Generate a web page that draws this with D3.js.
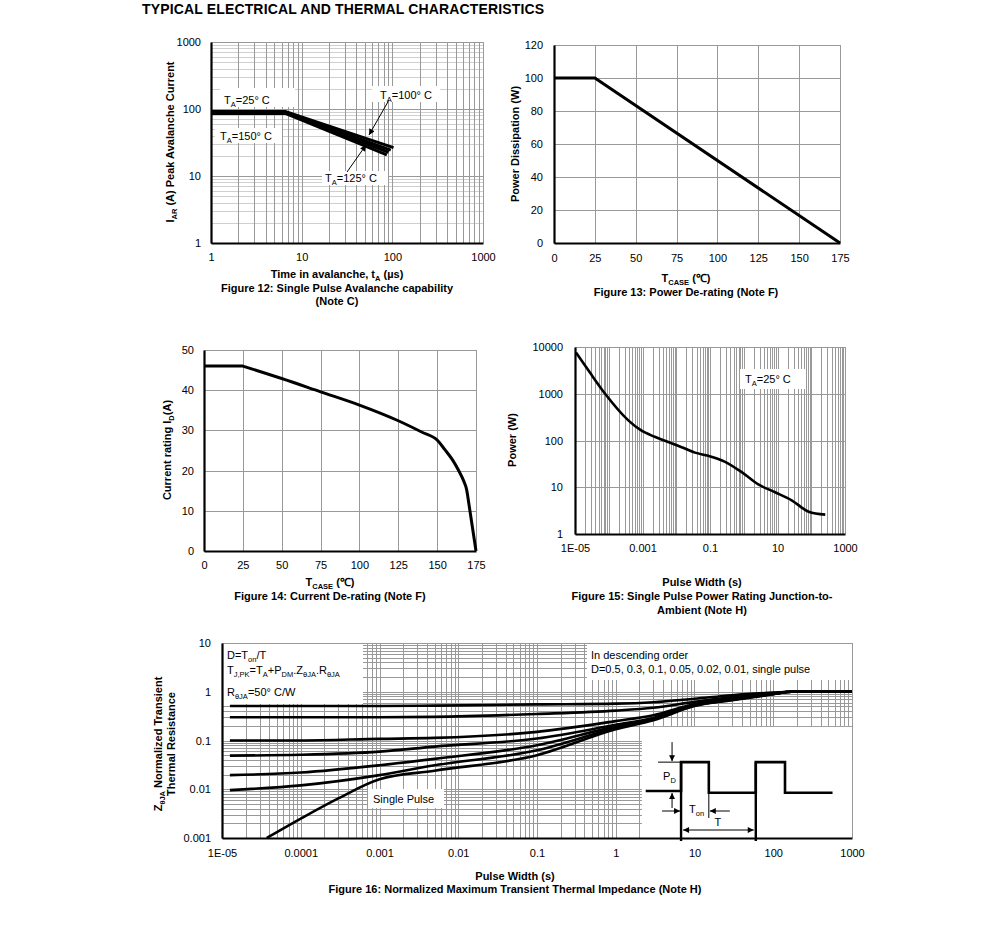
<!DOCTYPE html>
<html><head><meta charset="utf-8">
<script src="https://cdn.jsdelivr.net/npm/d3@7"></script>
<style>
body{margin:0;background:#fff;}
svg{display:block;}
</style></head><body>
<script>
// ================= DATA =================
const pageTitle = "TYPICAL ELECTRICAL AND THERMAL CHARACTERISTICS";

// Figure 12: single pulse avalanche capability
const fig12Temps = ["25", "100", "125", "150"];
const fig12Time = [[1, 6.6, 103], [1, 6.6, 96], [1, 6.6, 91], [1, 6.6, 87]];
const fig12Current = [[92, 92, 26.5], [90, 90, 24.3], [88, 88, 22.6], [86, 86, 20.6]];
const fig12XTicks = [1, 10, 100, 1000];
const fig12YTicks = [1, 10, 100, 1000];
const fig12TickLabels = ["1", "10", "100", "1000"];

// Figure 13: power de-rating
const fig13Temp = [0, 25, 175];
const fig13Power = [100, 100, 0];
const fig13XTicks = [0, 25, 50, 75, 100, 125, 150, 175];
const fig13YTicks = [0, 20, 40, 60, 80, 100, 120];

// Figure 14: current de-rating
const fig14Temp = [0, 25, 50, 75, 100, 125, 140, 150, 155, 160, 164, 167, 169, 170.2, 175];
const fig14Current = [46, 46, 42.9, 39.6, 36.3, 32.4, 29.6, 27.6, 25.2, 22.6, 19.9, 17.5, 15.2, 12.3, 0];
const fig14XTicks = [0, 25, 50, 75, 100, 125, 150, 175];
const fig14YTicks = [0, 10, 20, 30, 40, 50];

// Figure 15: single pulse power rating
const fig15Width = [1.07e-5, 2.8e-5, 7.8e-5, 3.8e-4, 8.9e-4, 2.3e-3, 5.8e-3, 1.45e-2, 3.6e-2, 8.9e-2, 0.28, 0.87, 2.7, 8.5, 27, 84, 260];
const fig15Power = [7600, 2800, 1000, 270, 166, 120, 93, 72, 55, 47, 35, 21, 11.5, 7.8, 5.2, 3, 2.6];
const fig15XTicks = [1e-5, 1e-3, 1e-1, 10, 1000];
const fig15XLabels = ["1E-05", "0.001", "0.1", "10", "1000"];
const fig15YTicks = [1, 10, 100, 1000, 10000];
const fig15YLabels = ["1", "10", "100", "1000", "10000"];

// Figure 16: normalized transient thermal impedance
const fig16Time = [1.26e-5, 1e-4, 1e-3, 5e-3, 0.1, 1, 3, 10, 30, 100, 170, 1000];
const fig16Duty = ["0.5", "0.3", "0.1", "0.05", "0.02", "0.01"];
const fig16Z = [
  [0.51, 0.51, 0.51, 0.52, 0.55, 0.57, 0.61, 0.72, 0.85, 0.96, 1, 1],
  [0.30, 0.30, 0.30, 0.305, 0.35, 0.41, 0.47, 0.62, 0.78, 0.94, 1, 1],
  [0.10, 0.10, 0.108, 0.113, 0.15, 0.25, 0.33, 0.56, 0.72, 0.92, 1, 1],
  [0.049, 0.051, 0.059, 0.075, 0.11, 0.21, 0.29, 0.54, 0.70, 0.91, 1, 1],
  [0.0195, 0.022, 0.031, 0.042, 0.08, 0.195, 0.28, 0.53, 0.69, 0.90, 1, 1],
  [0.0096, 0.012, 0.0195, 0.031, 0.063, 0.18, 0.27, 0.52, 0.68, 0.90, 1, 1]
];
const singlePulseTime = [3.7e-5, 1e-4, 3e-4, 1e-3, 5e-3, 0.1, 1, 3, 10, 30, 100, 170, 1000];
const singlePulseZ = [0.001, 0.0025, 0.0065, 0.016, 0.024, 0.05, 0.17, 0.26, 0.51, 0.67, 0.89, 1, 1];
const fig16XTicks = [1e-5, 1e-4, 1e-3, 1e-2, 0.1, 1, 10, 100, 1000];
const fig16XLabels = ["1E-05", "0.0001", "0.001", "0.01", "0.1", "1", "10", "100", "1000"];
const fig16YTicks = [0.001, 0.01, 0.1, 1, 10];
const fig16YLabels = ["0.001", "0.01", "0.1", "1", "10"];
// pulse schematic drawn in the figure-16 coordinate system
const pulseTime = [2.4, 6.75, 6.75, 15.2, 15.2, 60, 60, 141, 141, 566];
const pulseLevel = [0.0092, 0.0092, 0.036, 0.036, 0.0085, 0.0085, 0.036, 0.036, 0.0085, 0.0085];

// ================= DRAWING =================
const FONT = '"Liberation Sans", Arial, Helvetica, sans-serif';
const svg = d3.select("body").append("svg").attr("width", 991).attr("height", 927)
  .style("font-family", FONT);

const defs = svg.append("defs");
defs.append("marker").attr("id", "arr").attr("viewBox", "0 0 10 10").attr("refX", 10).attr("refY", 5)
  .attr("markerWidth", 7).attr("markerHeight", 6).attr("orient", "auto-start-reverse")
  .append("path").attr("d", "M0,0L10,5L0,10z").attr("fill", "#000");

const GRID = "#999", GRID_LIGHT = "#cfcfcf";
const snap = v => Math.round(v) + 0.5;

function rich(sel, parts, subDy = 2, subSize = 7.5) {
  let off = 0;
  parts.forEach(p => {
    const isSub = Array.isArray(p);
    const want = isSub ? subDy : 0;
    const ts = sel.append("tspan").text(isSub ? p[0] : p).attr("dy", want - off);
    if (isSub) ts.attr("font-size", subSize);
    off = want;
  });
  return sel;
}
function txt(g, x, y, parts, opt = {}) {
  const t = g.append("text").attr("x", x).attr("y", y).attr("font-size", opt.size || 11)
    .attr("font-weight", opt.bold ? "bold" : "normal").attr("text-anchor", opt.anchor || "start").attr("fill", "#000");
  if (opt.ls) t.attr("letter-spacing", opt.ls);
  return rich(t, typeof parts === "string" ? [parts] : parts, opt.subDy || 2.5, opt.subSize || 7.5);
}
function vtxt(g, x, y, parts) {
  const t = g.append("text").attr("transform", `translate(${x},${y}) rotate(-90)`).attr("font-size", 11)
    .attr("font-weight", "bold").attr("text-anchor", "middle").attr("fill", "#000");
  return rich(t, typeof parts === "string" ? [parts] : parts, 2.5, 7.5);
}
function logTicks(lo, hi) {
  const out = [];
  for (let e = Math.round(Math.log10(lo)); e < Math.round(Math.log10(hi)); e++)
    for (let k = 1; k < 10; k++) out.push(k * Math.pow(10, e));
  out.push(hi);
  return out;
}
const isMajor = d => Math.abs(Math.log10(d) - Math.round(Math.log10(d))) < 1e-9;

function vGrid(g, x, y, vals, color) {
  const [yb, yt] = y.range();
  g.append("g").selectAll("line").data(vals).join("line")
    .attr("x1", d => snap(x(d))).attr("x2", d => snap(x(d))).attr("y1", yb).attr("y2", yt)
    .attr("stroke", typeof color === "function" ? color : () => color).attr("stroke-width", 1);
}
function hGrid(g, x, y, vals, color) {
  const [xl, xr] = x.range();
  g.append("g").selectAll("line").data(vals).join("line")
    .attr("y1", d => snap(y(d))).attr("y2", d => snap(y(d))).attr("x1", xl).attr("x2", xr)
    .attr("stroke", typeof color === "function" ? color : () => color).attr("stroke-width", 1);
}
function axes(g, x, y, xt, xl, yt, yl, xpad, ypad) {
  const ab = g.append("g").attr("transform", `translate(0,${y.range()[0]})`)
    .call(d3.axisBottom(x).tickValues(xt).tickFormat((d, i) => xl[i]).tickSize(0).tickSizeOuter(0).tickPadding(xpad));
  const al = g.append("g").attr("transform", `translate(${x.range()[0]},0)`)
    .call(d3.axisLeft(y).tickValues(yt).tickFormat((d, i) => yl[i]).tickSize(0).tickSizeOuter(0).tickPadding(ypad));
  [ab, al].forEach(a => {
    a.attr("font-family", null).attr("font-size", null);
    a.select(".domain").attr("stroke", "#000").attr("stroke-width", 2.2);
    a.selectAll("text").attr("font-size", 11).attr("fill", "#000");
  });
}
const str = a => a.map(String);

// ---------- page title ----------
txt(svg, 142, 14, pageTitle, { bold: true, size: 14, ls: 0.15 });

// ---------- Figure 12 ----------
{
  const g = svg.append("g");
  const x = d3.scaleLog().domain([1, 1000]).range([211, 483]);
  const y = d3.scaleLog().domain([1, 1000]).range([243, 42]);
  const t = logTicks(1, 1000);
  hGrid(g, x, y, t, d => isMajor(d) ? GRID : GRID_LIGHT);
  vGrid(g, x, y, t, GRID);
  const boxes = [[220, 88, 75, 19], [372, 86, 68, 16], [215, 128, 67, 15], [322, 171, 66, 14]];
  g.selectAll(".lb").data(boxes).join("rect").attr("class", "lb")
    .attr("x", d => d[0]).attr("y", d => d[1]).attr("width", d => d[2]).attr("height", d => d[3]).attr("fill", "#fff");
  const line = d3.line().x(d => x(d[0])).y(d => y(d[1]));
  fig12Temps.forEach((tmp, i) => {
    const pts = fig12Time[i].map((tt, j) => [tt, fig12Current[i][j]]);
    g.append("path").attr("d", line(pts)).attr("fill", "none").attr("stroke", "#000").attr("stroke-width", 3);
  });
  axes(g, x, y, fig12XTicks, fig12TickLabels, fig12YTicks, fig12TickLabels, 10, 10);
  txt(g, 224, 104, ["T", ["A"], "=25° C"]);
  txt(g, 380, 99, ["T", ["A"], "=100° C"]);
  txt(g, 220, 140, ["T", ["A"], "=150° C"]);
  txt(g, 325, 182, ["T", ["A"], "=125° C"]);
  g.append("line").attr("x1", 389).attr("y1", 100).attr("x2", 369).attr("y2", 135)
    .attr("stroke", "#000").attr("stroke-width", 1).attr("marker-end", "url(#arr)");
  g.append("line").attr("x1", 347).attr("y1", 172).attr("x2", 366).attr("y2", 145)
    .attr("stroke", "#000").attr("stroke-width", 1).attr("marker-end", "url(#arr)");
  txt(g, 337, 278, ["Time in avalanche, t", ["A"], " (µs)"], { bold: true, anchor: "middle" });
  txt(g, 337, 292, "Figure 12: Single Pulse Avalanche capability", { bold: true, anchor: "middle" });
  txt(g, 337, 305, "(Note C)", { bold: true, anchor: "middle" });
  vtxt(g, 174, 142, ["I", ["AR"], " (A) Peak Avalanche Current"]);
}

// ---------- Figure 13 ----------
{
  const g = svg.append("g");
  const x = d3.scaleLinear().domain([0, 175]).range([554, 840]);
  const y = d3.scaleLinear().domain([0, 120]).range([243, 45]);
  hGrid(g, x, y, fig13YTicks, GRID);
  vGrid(g, x, y, fig13XTicks, GRID);
  const pts = fig13Temp.map((t, i) => [t, fig13Power[i]]);
  g.append("path").attr("d", d3.line().x(d => x(d[0])).y(d => y(d[1]))(pts))
    .attr("fill", "none").attr("stroke", "#000").attr("stroke-width", 3);
  axes(g, x, y, fig13XTicks, str(fig13XTicks), fig13YTicks, str(fig13YTicks), 11, 11);
  txt(g, 686, 282, ["T", ["CASE"], " (℃)"], { bold: true, anchor: "middle" });
  txt(g, 686, 296, "Figure 13: Power De-rating (Note F)", { bold: true, anchor: "middle" });
  vtxt(g, 519, 144, "Power Dissipation (W)");
}

// ---------- Figure 14 ----------
{
  const g = svg.append("g");
  const x = d3.scaleLinear().domain([0, 175]).range([204, 476]);
  const y = d3.scaleLinear().domain([0, 50]).range([551, 350]);
  hGrid(g, x, y, fig14YTicks, GRID);
  vGrid(g, x, y, fig14XTicks, GRID);
  const pts = fig14Temp.map((t, i) => [t, fig14Current[i]]);
  const n = pts.length;
  const lin = d3.line().x(d => x(d[0])).y(d => y(d[1]));
  const smooth = d3.line().x(d => x(d[0])).y(d => y(d[1])).curve(d3.curveMonotoneX);
  // flat part, smooth de-rating part, final drop
  const dPath = lin(pts.slice(0, 2)) + smooth(pts.slice(1, n - 1)).replace(/^M/, "L") + lin(pts.slice(n - 2)).replace(/^M/, "L");
  g.append("path").attr("d", dPath)
    .attr("fill", "none").attr("stroke", "#000").attr("stroke-width", 3).attr("stroke-linejoin", "round");
  axes(g, x, y, fig14XTicks, str(fig14XTicks), fig14YTicks, str(fig14YTicks), 10, 10);
  txt(g, 330, 586, ["T", ["CASE"], " (℃)"], { bold: true, anchor: "middle" });
  txt(g, 330, 600, "Figure 14: Current De-rating (Note F)", { bold: true, anchor: "middle" });
  vtxt(g, 171, 450, ["Current rating I", ["D"], "(A)"]);
}

// ---------- Figure 15 ----------
{
  const g = svg.append("g");
  const x = d3.scaleLog().domain([1e-5, 1000]).range([575, 845]);
  const y = d3.scaleLog().domain([1, 10000]).range([534, 347]);
  vGrid(g, x, y, logTicks(1e-5, 1000), GRID);
  hGrid(g, x, y, fig15YTicks, GRID);
  g.append("rect").attr("x", 740).attr("y", 369).attr("width", 66).attr("height", 20).attr("fill", "#fff");
  const pts = fig15Width.map((t, i) => [t, fig15Power[i]]);
  g.append("path").attr("d", d3.line().x(d => x(d[0])).y(d => y(d[1])).curve(d3.curveMonotoneX)(pts))
    .attr("fill", "none").attr("stroke", "#000").attr("stroke-width", 2.6);
  axes(g, x, y, fig15XTicks, fig15XLabels, fig15YTicks, fig15YLabels, 10, 12);
  txt(g, 745, 383, ["T", ["A"], "=25° C"]);
  txt(g, 702, 586, "Pulse Width (s)", { bold: true, anchor: "middle" });
  txt(g, 702, 600, "Figure 15: Single Pulse Power Rating Junction-to-", { bold: true, anchor: "middle" });
  txt(g, 702, 614, "Ambient (Note H)", { bold: true, anchor: "middle" });
  vtxt(g, 516, 440, "Power (W)");
}

// ---------- Figure 16 ----------
{
  const g = svg.append("g");
  const x = d3.scaleLog().domain([1e-5, 1000]).range([222, 852]);
  const y = d3.scaleLog().domain([0.001, 10]).range([838, 643]);
  hGrid(g, x, y, logTicks(0.001, 10), GRID);
  vGrid(g, x, y, logTicks(1e-5, 1000), GRID);
  g.append("rect").attr("x", 223).attr("y", 644).attr("width", 140).attr("height", 60).attr("fill", "#fff");
  g.append("rect").attr("x", 587).attr("y", 644).attr("width", 265).attr("height", 36).attr("fill", "#fff");
  g.append("rect").attr("x", x(2.15)).attr("y", y(0.19)).attr("width", x(1000) - x(2.15))
    .attr("height", y(0.001) - y(0.19)).attr("fill", "#fff");
  const line = d3.line().x(d => x(d[0])).y(d => y(d[1])).curve(d3.curveMonotoneX);
  fig16Duty.forEach((dd, i) => {
    const pts = fig16Time.map((t, j) => [t, fig16Z[i][j]]);
    g.append("path").attr("d", line(pts)).attr("fill", "none").attr("stroke", "#000").attr("stroke-width", 2.6);
  });
  const sp = singlePulseTime.map((t, j) => [t, singlePulseZ[j]]);
  g.append("path").attr("d", line(sp)).attr("fill", "none").attr("stroke", "#000").attr("stroke-width", 2.6);
  g.append("rect").attr("x", 368).attr("y", 789).attr("width", 76).attr("height", 19).attr("fill", "#fff");
  txt(g, 373, 803, "Single Pulse");

  // pulse schematic
  const pl = d3.line().x(d => x(d[0])).y(d => y(d[1]));
  g.append("path").attr("d", pl(pulseTime.map((t, i) => [t, pulseLevel[i]])))
    .attr("fill", "none").attr("stroke", "#000").attr("stroke-width", 2.6);
  [pulseTime[1], pulseTime[5]].forEach(t => {
    g.append("line").attr("x1", x(t)).attr("x2", x(t)).attr("y1", y(0.036)).attr("y2", y(0.001) + 3)
      .attr("stroke", "#000").attr("stroke-width", 2.4);
  });
  const xr = x(pulseTime[1]), xf = x(pulseTime[3]), xr2 = x(pulseTime[5]);
  const yTop = y(0.036), yBase = y(0.0092), yLow = y(0.0085);
  const ax = xr - 9;
  g.append("line").attr("x1", xr - 23).attr("x2", xr).attr("y1", yTop).attr("y2", yTop).attr("stroke", "#000");
  g.append("line").attr("x1", ax).attr("x2", ax).attr("y1", yTop - 20).attr("y2", yTop - 1)
    .attr("stroke", "#000").attr("marker-end", "url(#arr)");
  g.append("line").attr("x1", ax).attr("x2", ax).attr("y1", yBase + 17).attr("y2", yBase + 2)
    .attr("stroke", "#000").attr("marker-end", "url(#arr)");
  const yTon = yBase + 20;
  g.append("line").attr("x1", xr - 19).attr("x2", xr - 1).attr("y1", yTon).attr("y2", yTon)
    .attr("stroke", "#000").attr("marker-end", "url(#arr)");
  g.append("line").attr("x1", xf + 21).attr("x2", xf + 1).attr("y1", yTon).attr("y2", yTon)
    .attr("stroke", "#000").attr("marker-end", "url(#arr)");
  g.append("line").attr("x1", xf).attr("x2", xf).attr("y1", yLow).attr("y2", yTon + 7).attr("stroke", "#000");
  const yT = y(0.001) - 8;
  g.append("line").attr("x1", xr + 2).attr("x2", xr2 - 2).attr("y1", yT).attr("y2", yT)
    .attr("stroke", "#000").attr("marker-start", "url(#arr)").attr("marker-end", "url(#arr)");
  txt(g, xr - 18, yBase - 11, ["P", ["D"]]);
  txt(g, xr + 8, yTon + 2, ["T", ["on"]]);
  txt(g, (xr + xr2) / 2 - 4, yT - 4, "T");

  axes(g, x, y, fig16XTicks, fig16XLabels, fig16YTicks, fig16YLabels, 11, 11);
  txt(g, 227, 659, ["D=T", ["on"], "/T"]);
  txt(g, 227, 674, ["T", ["J,PK"], "=T", ["A"], "+P", ["DM"], ".Z", ["θJA"], ".R", ["θJA"]]);
  txt(g, 227, 696, ["R", ["θJA"], "=50° C/W"]);
  txt(g, 591, 659, "In descending order");
  txt(g, 591, 673, "D=0.5, 0.3, 0.1, 0.05, 0.02, 0.01, single pulse");
  txt(g, 515, 880, "Pulse Width (s)", { bold: true, anchor: "middle" });
  txt(g, 515, 893, "Figure 16: Normalized Maximum Transient Thermal Impedance (Note H)", { bold: true, anchor: "middle" });
  vtxt(g, 162, 744, ["Z", ["θJA"], " Normalized Transient"]);
  vtxt(g, 175, 744, "Thermal Resistance");
}
</script>
</body></html>
